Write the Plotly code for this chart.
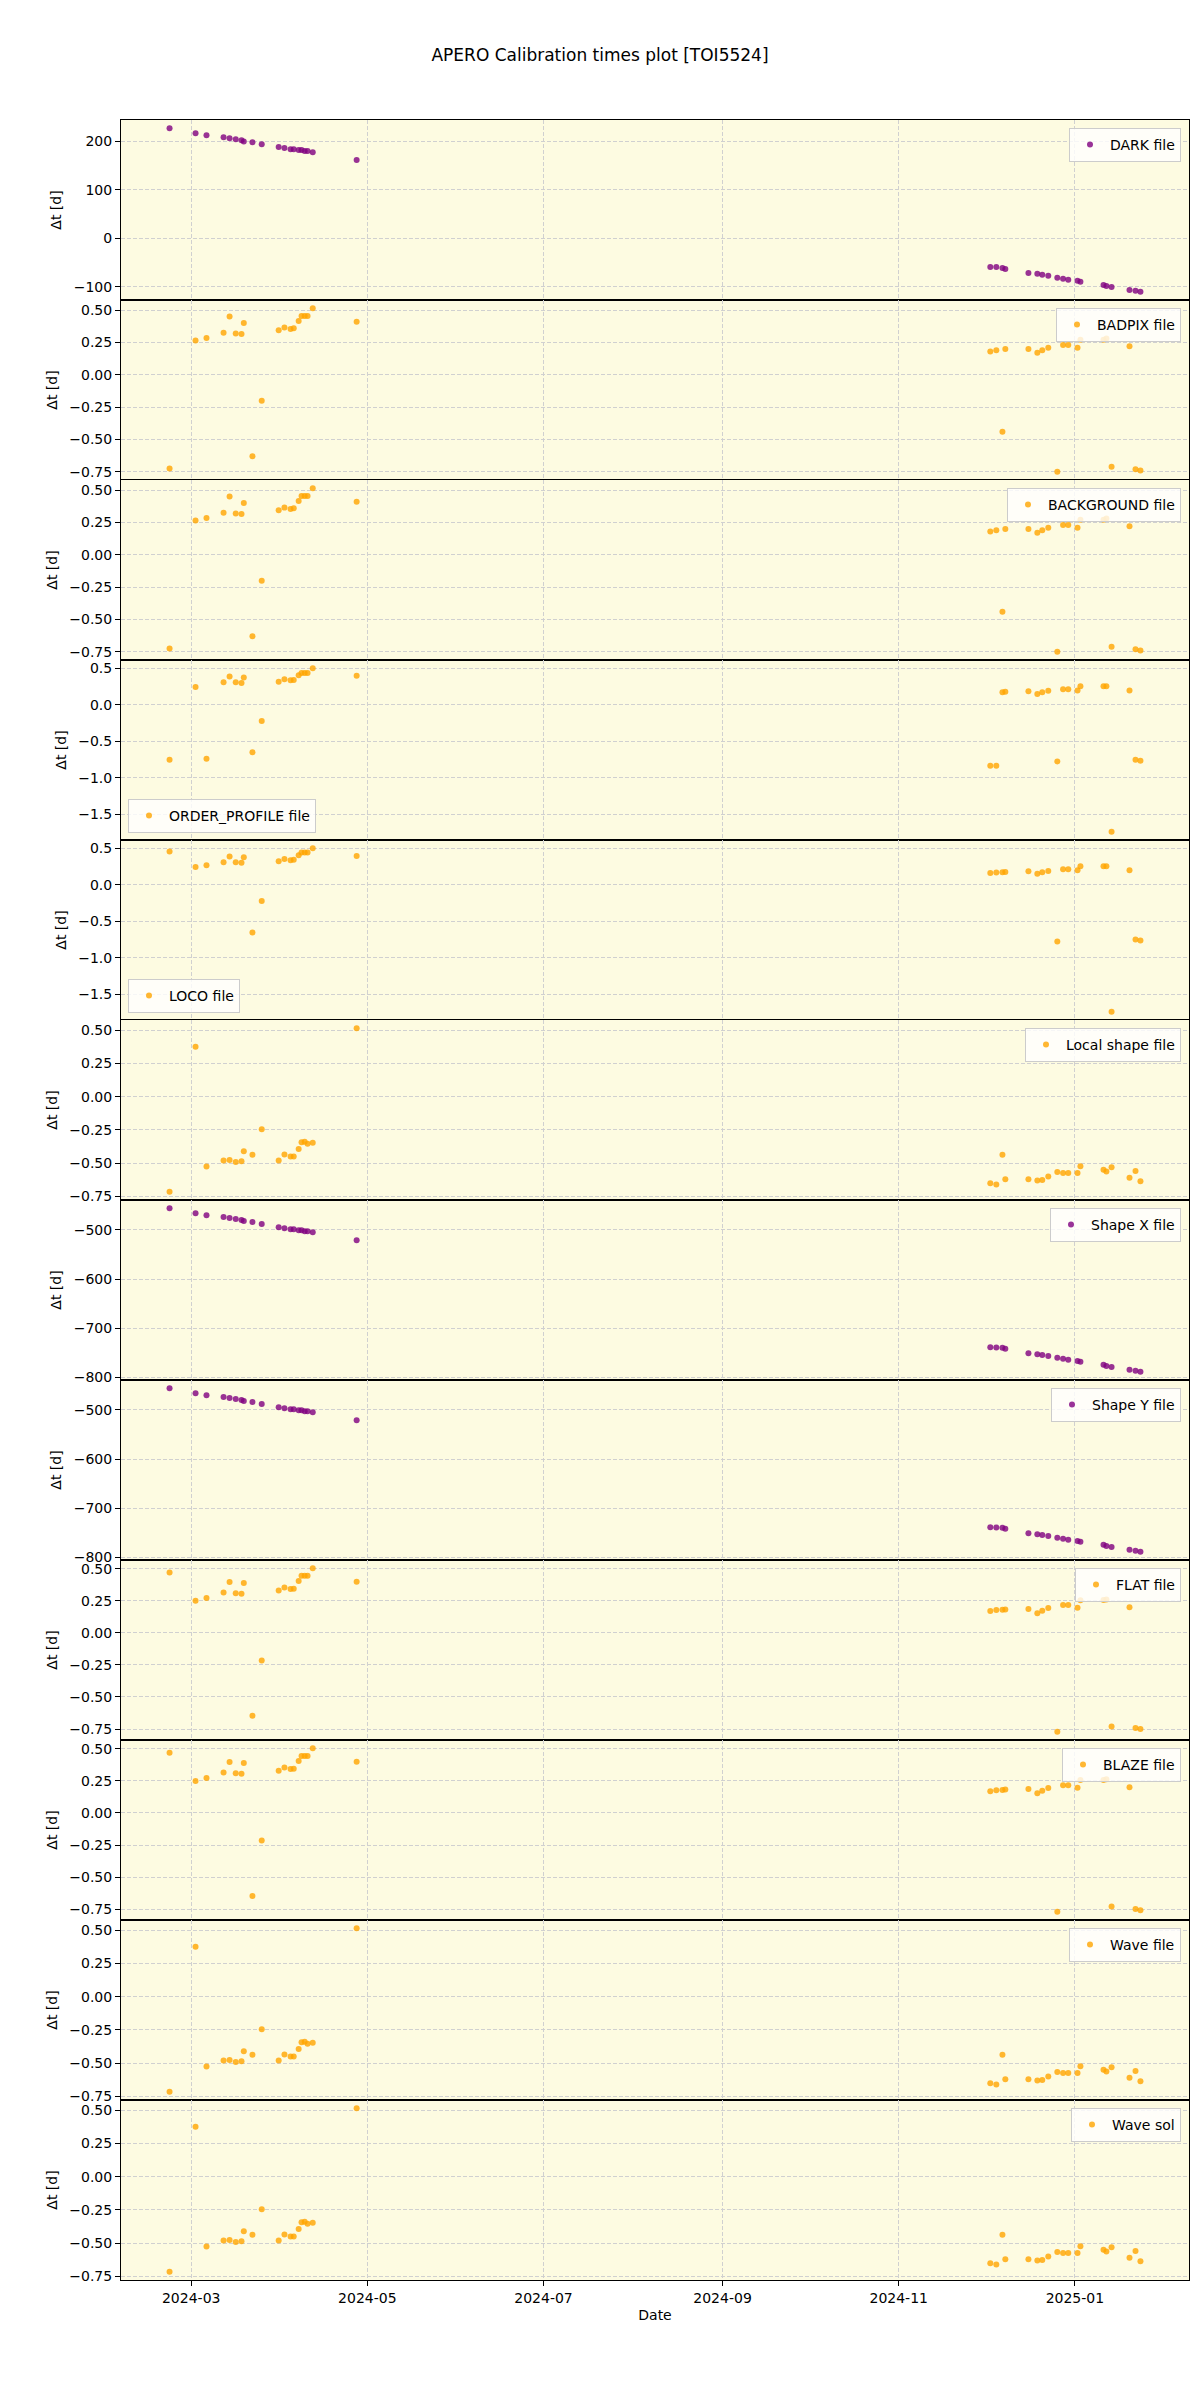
import pandas as pd
import plotly.graph_objects as go
from plotly.subplots import make_subplots

# observation dates (one point per observation)
obs_dates = [
    '2024-02-22 12:00', '2024-03-02 12:00', '2024-03-06 07:00', '2024-03-12 05:00',
    '2024-03-14 07:00', '2024-03-16 10:00', '2024-03-18 10:00', '2024-03-19 05:00',
    '2024-03-22 05:00', '2024-03-25 10:00', '2024-03-31 07:00', '2024-04-02 07:00',
    '2024-04-04 10:00', '2024-04-05 12:00', '2024-04-07 05:00', '2024-04-08 05:00',
    '2024-04-09 07:00', '2024-04-10 07:00', '2024-04-12 02:00', '2024-04-27 07:00',
    '2024-12-02 17:00', '2024-12-04 19:00', '2024-12-06 22:00', '2024-12-07 22:00',
    '2024-12-15 22:00', '2024-12-19 00:00', '2024-12-20 17:00', '2024-12-22 19:00',
    '2024-12-25 22:00', '2024-12-27 22:00', '2024-12-29 17:00', '2025-01-01 22:00',
    '2025-01-02 22:00', '2025-01-10 22:00', '2025-01-11 22:00', '2025-01-13 17:00',
    '2025-01-19 22:00', '2025-01-22 00:00', '2025-01-23 17:00',
]

dark = [227.4, 217.1, 213.0, 208.9, 206.8, 204.8, 202.7, 200.0, 198.6, 194.5,
        188.4, 186.3, 184.2, 184.2, 182.2, 182.2, 180.1, 180.1, 178.0, 161.6,
        -58.6, -59.0, -60.7, -62.8, -71.0, -73.0, -75.0, -77.0, -81.0, -83.0,
        -85.0, -87.0, -89.0, -96.0, -98.0, -100.0, -106.0, -108.0, -110.0]

badpix = [-0.724, 0.265, 0.285, 0.325, 0.45, 0.32, 0.315, 0.40, -0.63, -0.20,
          0.345, 0.365, 0.355, 0.36, 0.415, 0.455, 0.455, 0.455, 0.515, 0.41,
          0.18, 0.19, -0.44, 0.20, 0.20, 0.17, 0.19, 0.21, -0.75, 0.23,
          0.23, 0.21, 0.27, 0.27, 0.28, -0.71, 0.22, -0.73, -0.74]

background = [-0.724, 0.265, 0.285, 0.325, 0.45, 0.32, 0.315, 0.40, -0.63, -0.20,
              0.345, 0.365, 0.355, 0.36, 0.415, 0.455, 0.455, 0.455, 0.515, 0.41,
              0.18, 0.19, -0.44, 0.20, 0.20, 0.17, 0.19, 0.21, -0.75, 0.23,
              0.23, 0.21, 0.27, 0.27, 0.28, -0.71, 0.22, -0.73, -0.74]

order_profile = [-0.752, 0.248, -0.739, 0.312, 0.39, 0.312, 0.30, 0.376, -0.65, -0.22,
                 0.32, 0.353, 0.34, 0.344, 0.408, 0.44, 0.44, 0.44, 0.505, 0.40,
                 -0.835, -0.835, 0.174, 0.183, 0.188, 0.15, 0.174, 0.197, -0.775, 0.216,
                 0.216, 0.20, 0.257, 0.257, 0.257, -1.74, 0.20, -0.75, -0.766]

loco = [0.454, 0.243, 0.266, 0.307, 0.385, 0.307, 0.30, 0.376, -0.656, -0.225,
        0.32, 0.353, 0.335, 0.34, 0.404, 0.44, 0.44, 0.44, 0.50, 0.394,
        0.16, 0.165, 0.17, 0.174, 0.183, 0.15, 0.17, 0.188, -0.78, 0.21,
        0.21, 0.197, 0.252, 0.252, 0.252, -1.743, 0.197, -0.752, -0.766]

local_shape = [-0.715, 0.375, -0.525, -0.48, -0.475, -0.49, -0.485, -0.41, -0.437, -0.245,
               -0.48, -0.435, -0.45, -0.45, -0.394, -0.343, -0.338, -0.353, -0.346, 0.515,
               -0.65, -0.66, -0.437, -0.62, -0.62, -0.63, -0.626, -0.60, -0.566, -0.573,
               -0.573, -0.573, -0.523, -0.55, -0.563, -0.53, -0.61, -0.558, -0.636]

shape_x = [-455.8, -466.0, -470.0, -474.0, -476.0, -478.0, -480.0, -482.0, -484.0, -488.0,
           -494.6, -496.6, -498.6, -498.6, -500.7, -500.7, -502.7, -502.7, -504.8, -521.0,
           -738.8, -739.5, -740.0, -742.0, -751.0, -753.0, -755.0, -757.0, -760.5, -762.6,
           -764.6, -767.0, -768.7, -774.8, -777.0, -779.0, -785.0, -787.0, -789.0]

shape_y = [-455.8, -466.0, -470.0, -474.0, -476.0, -478.0, -480.0, -482.0, -484.0, -488.0,
           -494.6, -496.6, -498.6, -498.6, -500.7, -500.7, -502.7, -502.7, -504.8, -521.0,
           -738.8, -739.5, -740.0, -742.0, -751.0, -753.0, -755.0, -757.0, -760.5, -762.6,
           -764.6, -767.0, -768.7, -774.8, -777.0, -779.0, -785.0, -787.0, -789.0]

flat = [0.471, 0.25, 0.272, 0.315, 0.398, 0.31, 0.305, 0.39, -0.647, -0.215,
        0.33, 0.354, 0.343, 0.345, 0.405, 0.445, 0.445, 0.445, 0.505, 0.40,
        0.17, 0.178, 0.18, 0.183, 0.186, 0.154, 0.173, 0.194, -0.772, 0.217,
        0.217, 0.196, 0.254, 0.257, 0.26, -0.73, 0.20, -0.743, -0.75]

blaze = [0.47, 0.25, 0.272, 0.315, 0.398, 0.31, 0.305, 0.39, -0.647, -0.215,
         0.33, 0.354, 0.343, 0.345, 0.405, 0.445, 0.445, 0.445, 0.505, 0.40,
         0.17, 0.178, 0.18, 0.183, 0.186, 0.154, 0.173, 0.194, -0.77, 0.217,
         0.217, 0.196, 0.257, 0.257, 0.262, -0.728, 0.20, -0.749, -0.757]

wave_file = [-0.715, 0.375, -0.525, -0.48, -0.475, -0.49, -0.485, -0.41, -0.437, -0.245,
             -0.48, -0.435, -0.45, -0.45, -0.394, -0.343, -0.338, -0.353, -0.346, 0.515,
             -0.65, -0.66, -0.437, -0.62, -0.62, -0.63, -0.626, -0.60, -0.566, -0.573,
             -0.573, -0.573, -0.523, -0.55, -0.563, -0.53, -0.61, -0.558, -0.636]

wave_sol = [-0.715, 0.375, -0.525, -0.48, -0.475, -0.49, -0.485, -0.41, -0.437, -0.245,
            -0.48, -0.435, -0.45, -0.45, -0.394, -0.343, -0.338, -0.353, -0.346, 0.515,
            -0.65, -0.66, -0.437, -0.62, -0.62, -0.63, -0.626, -0.60, -0.566, -0.573,
            -0.573, -0.573, -0.523, -0.55, -0.563, -0.53, -0.61, -0.558, -0.636]

# (legend label, values, colour, legend corner, y dtick, y tick format)
panels = [
    ('DARK file', dark, 'purple', 'ur', 100, 'd'),
    ('BADPIX file', badpix, 'orange', 'ur', 0.25, '.2f'),
    ('BACKGROUND file', background, 'orange', 'ur', 0.25, '.2f'),
    ('ORDER_PROFILE file', order_profile, 'orange', 'll', 0.5, '.1f'),
    ('LOCO file', loco, 'orange', 'll', 0.5, '.1f'),
    ('Local shape file', local_shape, 'orange', 'ur', 0.25, '.2f'),
    ('Shape X file', shape_x, 'purple', 'ur', 100, 'd'),
    ('Shape Y file', shape_y, 'purple', 'ur', 100, 'd'),
    ('FLAT file', flat, 'orange', 'ur', 0.25, '.2f'),
    ('BLAZE file', blaze, 'orange', 'ur', 0.25, '.2f'),
    ('Wave file', wave_file, 'orange', 'ur', 0.25, '.2f'),
    ('Wave sol', wave_sol, 'orange', 'ur', 0.25, '.2f'),
]

W, H = 1200, 2400
ML, MR, MT, MB = 121, 11, 120, 120
n = len(panels)
ph = (H - MT - MB) / n
pw = W - ML - MR
font = 'DejaVu Sans'

dates = pd.to_datetime(obs_dates)
pad = (dates.max() - dates.min()) * 0.05
xrange = [dates.min() - pad, dates.max() + pad]

fig = make_subplots(rows=n, cols=1, shared_xaxes=True, vertical_spacing=0)

for i, (label, vals, color, corner, dt, fmt) in enumerate(panels):
    leg = 'legend' if i == 0 else 'legend%d' % (i + 1)
    fig.add_trace(go.Scatter(x=dates, y=vals, mode='markers', name=label,
                             marker=dict(color=color, size=6, opacity=0.8),
                             legend=leg), row=i + 1, col=1)
    lo, hi = min(vals), max(vals)
    span = hi - lo
    fig.update_yaxes(range=[lo - 0.05 * span, hi + 0.05 * span], dtick=dt,
                     tickformat=fmt, title_text='Δt [d]', row=i + 1, col=1)
    if corner == 'ur':
        lx, ly, xa, ya = 1 - 8 / pw, 1 - (8 + ph * i) / (H - MT - MB), 'right', 'top'
    else:
        lx, ly, xa, ya = 7 / pw, 1 - (ph * (i + 1) - 7) / (H - MT - MB), 'left', 'bottom'
    fig.update_layout({leg: dict(x=lx, y=ly, xanchor=xa, yanchor=ya,
                                 bgcolor='rgba(255,255,255,0.8)',
                                 bordercolor='#CCCCCC', borderwidth=1,
                                 font=dict(family=font, size=14, color='black'))})

fig.update_xaxes(range=xrange, tick0='2024-01-01', dtick='M2', tickformat='%Y-%m',
                 showgrid=True, gridcolor='#D0D0D0', griddash='4px,2px', gridwidth=1,
                 showline=True, mirror=True, linecolor='black', linewidth=1,
                 automargin=False,
                 tickfont=dict(family=font, size=14, color='black'))
fig.update_xaxes(ticks='outside', ticklen=5, tickcolor='black',
                 title_text='Date', title_font=dict(family=font, size=14, color='black'),
                 title_standoff=5, row=n, col=1)
fig.update_yaxes(showgrid=True, gridcolor='#D0D0D0', griddash='4px,2px', gridwidth=1,
                 zeroline=False, showline=True, mirror=True, linecolor='black',
                 linewidth=1, ticks='outside', ticklen=5, tickcolor='black',
                 automargin=False,
                 tickfont=dict(family=font, size=14, color='black'),
                 title_font=dict(family=font, size=14, color='black'),
                 title_standoff=8)

fig.update_layout(
    width=W, height=H,
    margin=dict(l=ML, r=MR, t=MT, b=MB, autoexpand=False),
    paper_bgcolor='white', plot_bgcolor='#FDFBE1',
    showlegend=True,
    title=dict(text='APERO Calibration times plot [TOI5524]', x=0.5, xref='container',
               y=1 - 55 / H, yref='container', xanchor='center', yanchor='middle',
               font=dict(family=font, size=17, color='black')),
    font=dict(family=font, color='black'),
)

# drop the default page margin so the figure sits at the window origin
fig.write_html('out.html', config={'displayModeBar': False},
               post_script="document.body.style.margin='0';")
